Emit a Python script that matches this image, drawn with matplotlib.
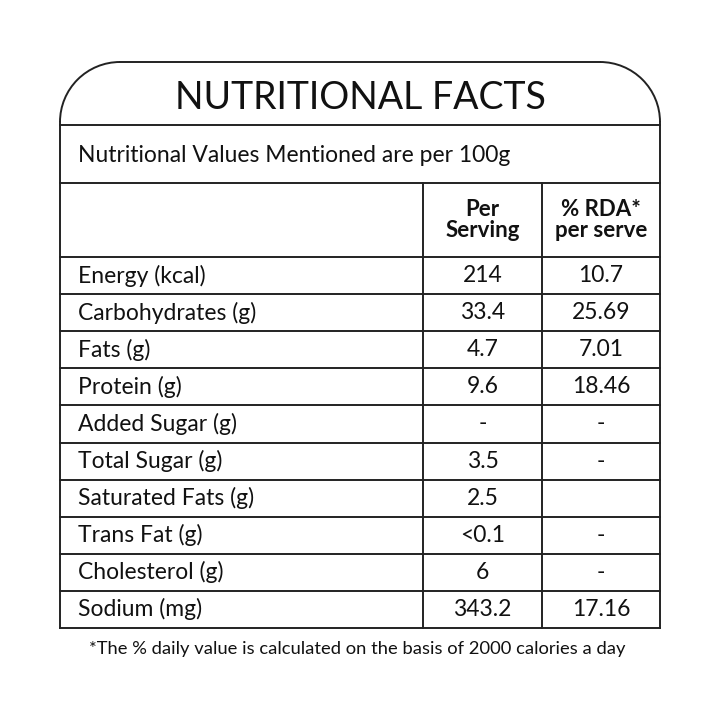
import matplotlib
matplotlib.use("Agg")
import matplotlib.pyplot as plt
from matplotlib.patches import Arc

title = "NUTRITIONAL FACTS"
subtitle = "Nutritional Values Mentioned are per 100g"
col_headers = ["Per\nServing", "% RDA*\nper serve"]
nutrients = ["Energy (kcal)", "Carbohydrates (g)", "Fats (g)", "Protein (g)", "Added Sugar (g)",
             "Total Sugar (g)", "Saturated Fats (g)", "Trans Fat (g)", "Cholesterol (g)", "Sodium (mg)"]
per_serving = ["214", "33.4", "4.7", "9.6", "-", "3.5", "2.5", "<0.1", "6", "343.2"]
rda = ["10.7", "25.69", "7.01", "18.46", "-", "-", "", "-", "-", "17.16"]
footnote = "*The % daily value is calculated on the basis of 2000 calories a day"

plt.rcParams['font.family'] = ['Lato', 'DejaVu Sans']
fig = plt.figure(figsize=(7.2, 7.2), dpi=100)
ax = fig.add_axes([0, 0, 1, 1])
ax.set_xlim(0, 720); ax.set_ylim(720, 0); ax.axis('off')

L, R, T, B = 60, 660, 62, 628
c1, c2 = 423, 542
r = 60
lw = 1.4
kw = dict(color='#222', lw=lw)
ax.plot([L, L], [T + r, B], **kw)
ax.plot([R, R], [T + r, B], **kw)
ax.plot([L + r, R - r], [T, T], **kw)
ax.plot([L, R], [B, B], **kw)
ax.add_patch(Arc((L + r, T + r), 2*r, 2*r, theta1=180, theta2=270, **kw))
ax.add_patch(Arc((R - r, T + r), 2*r, 2*r, theta1=270, theta2=360, **kw))

y_title_bot, y_sub_bot, y_head_bot = 125, 183, 257
for y in [y_title_bot, y_sub_bot]:
    ax.plot([L, R], [y, y], **kw)
n = len(nutrients)
rh = (B - y_head_bot) / n
for i in range(n):
    y = y_head_bot + i * rh
    ax.plot([L, R], [y, y], **kw)
for x in [c1, c2]:
    ax.plot([x, x], [y_sub_bot, B], **kw)

fs = 16.5
ax.text(360, 98, title, ha='center', va='center', fontsize=27, color='#111')
ax.text(78, 156, subtitle, ha='left', va='center', fontsize=16.5, color='#111')
for x, h in zip([(c1 + c2) / 2, (c2 + R) / 2], col_headers):
    ax.text(x, 220, h, ha='center', va='center', fontsize=16, fontweight='bold',
            color='#111', linespacing=1.0)
for i in range(n):
    yc = y_head_bot + (i + 0.5) * rh
    ax.text(78, yc, nutrients[i], ha='left', va='center', fontsize=fs, color='#111')
    ax.text((c1 + c2) / 2, yc, per_serving[i], ha='center', va='center', fontsize=fs, color='#111')
    ax.text((c2 + R) / 2, yc, rda[i], ha='center', va='center', fontsize=fs, color='#111')
ax.text(357, 649, footnote, ha='center', va='center', fontsize=13.2, color='#111')
fig.savefig("out.png", dpi=100)
